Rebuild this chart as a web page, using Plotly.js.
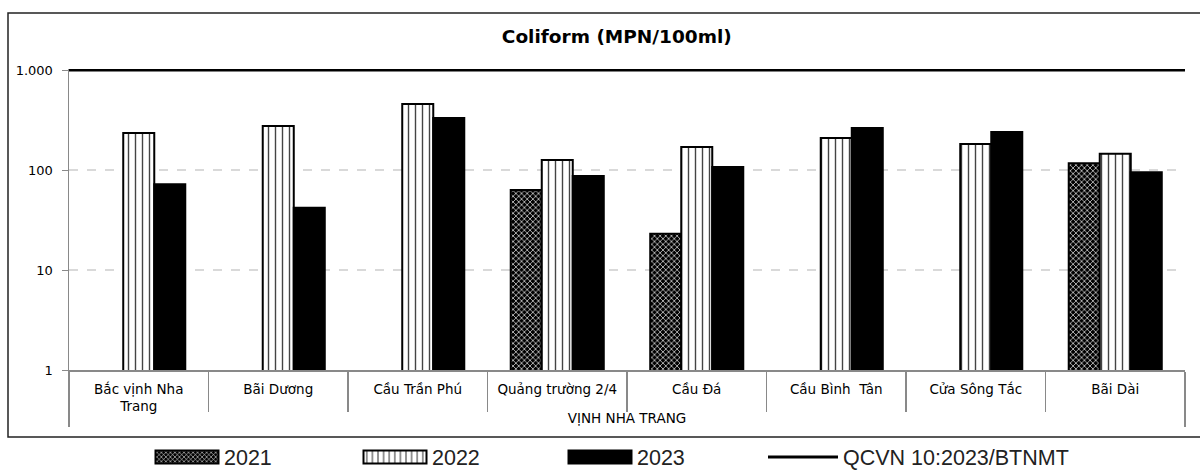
<!DOCTYPE html>
<html>
<head>
<meta charset="utf-8">
<script src="https://cdn.plot.ly/plotly-3.0.1.min.js"></script>
<style>html,body{margin:0;padding:0;background:#fff;}#chart{width:1200px;height:471px;}</style>
</head>
<body>
<div id="chart"></div>
<script>
// ---- data ----
const groupLabel = "VỊNH NHA TRANG";
const sites = ["Bắc vịnh Nha<br>Trang", "Bãi Dương", "Cầu Trần Phú", "Quảng trường 2/4", "Cầu Đá", "Cầu Bình  Tân", "Cửa Sông Tắc", "Bãi Dài"];
const values2021 = [null, null, null, 63, 23, null, null, 117];
const values2022 = [234, 275, 457, 126, 170, 209, 182, 145];
const values2023 = [72, 42, 331, 87, 107, 263, 240, 95];
const qcvnLimit = 1000;
const seriesNames = ["2021", "2022", "2023", "QCVN 10:2023/BTNMT"];
const yTickVals = [1, 10, 100, 1000];
const yTickText = ["1", "10", "100", "1.000"];

const xMulti = [sites.map(() => groupLabel), sites];

// plot-area geometry helpers (margins)
const W = 1200, H = 471;
const M = {l: 69, r: 15, t: 69, b: 101, autoexpand: false};
const pw = W - M.l - M.r, ph = H - M.t - M.b;
const px = v => (v - M.l) / pw;
const py = v => (H - M.b - v) / ph;

const barLine = {color: "#000", width: 2};

const traces = [
  {
    type: "bar", name: seriesNames[0], x: xMulti, y: values2021, legend: "legend",
    marker: {color: "#000", line: barLine,
      pattern: {shape: "x", bgcolor: "#000", fgcolor: "#fff", size: 4, solidity: 0.3}}
  },
  {
    type: "bar", name: seriesNames[1], x: xMulti, y: values2022, legend: "legend2",
    marker: {color: "#fff", line: barLine,
      pattern: {shape: "|", bgcolor: "#fff", fgcolor: "#444", size: 7, solidity: 0.2}}
  },
  {
    type: "bar", name: seriesNames[2], x: xMulti, y: values2023, legend: "legend3",
    marker: {color: "#000", line: barLine}
  },
  {
    type: "scatter", mode: "lines", name: seriesNames[3], legend: "legend4",
    x: [0, 1], y: [qcvnLimit, qcvnLimit], xaxis: "x2", yaxis: "y",
    line: {color: "#000", width: 3}
  }
];

function legendAt(left) {
  return {
    orientation: "h", x: px(left), xanchor: "left", y: py(457), yanchor: "middle",
    font: {family: "Liberation Sans, Arial, sans-serif", size: 21.5, color: "#222"},
    itemwidth: 70, bgcolor: "rgba(0,0,0,0)"
  };
}

const layout = {
  width: W, height: H,
  margin: M,
  paper_bgcolor: "#fff", plot_bgcolor: "#fff",
  font: {family: "DejaVu Sans, Verdana, sans-serif", size: 12.5, color: "#000"},
  title: {
    text: "<b>Coliform (MPN/100ml)</b>",
    font: {family: "DejaVu Sans, Verdana, sans-serif", size: 18.5, color: "#000"},
    x: 0.514, xanchor: "center", y: 1 - 37 / H, yanchor: "middle"
  },
  barmode: "group", bargap: 0.333, bargroupgap: 0,
  xaxis: {
    type: "multicategory",
    showline: true, linecolor: "#898989", linewidth: 1.5,
    ticks: "outside", tickson: "boundaries", ticklen: 40, tickcolor: "#898989", tickwidth: 1.5,
    showdividers: true, dividercolor: "#898989", dividerwidth: 1.5,
    showgrid: false, zeroline: false,
    ticklabelstandoff: 6,
    tickfont: {size: 13.5, color: "#000"}
  },
  xaxis2: {overlaying: "x", range: [0, 1], visible: false, fixedrange: true},
  yaxis: {
    type: "log", range: [0, 3.01],
    tickvals: yTickVals, ticktext: yTickText,
    showline: true, linecolor: "#898989", linewidth: 1.5,
    ticks: "outside", ticklen: 6, tickcolor: "#898989",
    ticklabelstandoff: 6,
    showgrid: true, gridcolor: "#d9d9d9", gridwidth: 1.5, griddash: "dash",
    zeroline: false,
    tickfont: {size: 13, color: "#000"}
  },
  legend: legendAt(144),
  legend2: legendAt(352),
  legend3: legendAt(557),
  legend4: legendAt(763),
  shapes: [
    {type: "rect", xref: "paper", yref: "paper",
     x0: px(8), x1: px(1205), y0: py(437), y1: py(13),
     line: {color: "#222", width: 1.5}, fillcolor: "rgba(0,0,0,0)", layer: "below"}
  ],
  showlegend: true
};

const gd = document.getElementById("chart");
Plotly.newPlot(gd, traces, layout, {displayModeBar: false, staticPlot: true}).then(() => {
  // widen the bar legend swatches to the long rectangles of the reference
  gd.querySelectorAll("g.legendpoints path").forEach(p => {
    if (!p.classList.contains("js-line")) p.setAttribute("d", "M34.5,6.5H-28.5V-6.5H34.5Z");
  });
});
</script>
</body>
</html>
